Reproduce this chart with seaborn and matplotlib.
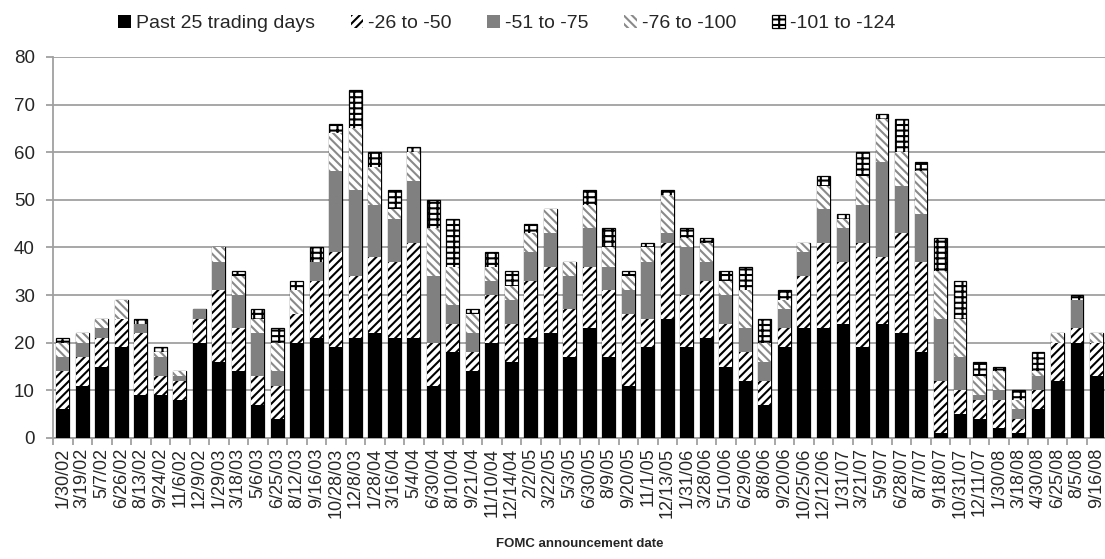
import numpy as np
import pandas as pd
import matplotlib
matplotlib.use("Agg")
import matplotlib.pyplot as plt
from matplotlib.patches import Patch
import seaborn as sns

dates = ["1/30/02", "3/19/02", "5/7/02", "6/26/02", "8/13/02", "9/24/02", "11/6/02",
         "12/9/02", "1/29/03", "3/18/03", "5/6/03", "6/25/03", "8/12/03", "9/16/03",
         "10/28/03", "12/8/03", "1/28/04", "3/16/04", "5/4/04", "6/30/04", "8/10/04",
         "9/21/04", "11/10/04", "12/14/04", "2/2/05", "3/22/05", "5/3/05", "6/30/05",
         "8/9/05", "9/20/05", "11/1/05", "12/13/05", "1/31/06", "3/28/06", "5/10/06",
         "6/29/06", "8/8/06", "9/20/06", "10/25/06", "12/12/06", "1/31/07", "3/21/07",
         "5/9/07", "6/28/07", "8/7/07", "9/18/07", "10/31/07", "12/11/07", "1/30/08",
         "3/18/08", "4/30/08", "6/25/08", "8/5/08", "9/16/08"]

past_25 = [6, 11, 15, 19, 9, 9, 8, 20, 16, 14, 7, 4, 20, 21, 19, 21, 22, 21, 21, 11,
           18, 14, 20, 16, 21, 22, 17, 23, 17, 11, 19, 25, 19, 21, 15, 12, 7, 19, 23, 23,
           24, 19, 24, 22, 18, 1, 5, 4, 2, 1, 6, 12, 20, 13]
d26_50 = [8, 6, 6, 6, 13, 4, 4, 5, 15, 9, 6, 7, 6, 12, 20, 13, 16, 16, 20, 9,
          6, 4, 10, 8, 12, 14, 10, 13, 14, 15, 6, 16, 11, 12, 9, 6, 5, 4, 11, 18,
          13, 22, 14, 21, 19, 11, 5, 4, 6, 3, 4, 8, 3, 7]
d51_75 = [3, 3, 2, 0, 2, 4, 1, 2, 6, 7, 9, 3, 0, 4, 17, 18, 11, 9, 13, 14,
          4, 4, 3, 5, 6, 7, 7, 8, 5, 5, 12, 2, 10, 4, 6, 5, 4, 4, 5, 7,
          7, 8, 20, 10, 10, 13, 7, 1, 2, 2, 3, 0, 6, 0]
d76_100 = [3, 2, 2, 4, 0, 1, 1, 0, 3, 4, 3, 6, 5, 0, 8, 13, 8, 2, 6, 10,
           8, 4, 3, 3, 4, 5, 3, 5, 4, 3, 3, 8, 2, 4, 3, 8, 4, 2, 2, 5,
           2, 6, 9, 7, 9, 10, 8, 4, 4, 2, 1, 2, 0, 2]
d101_124 = [1, 0, 0, 0, 1, 1, 0, 0, 0, 1, 2, 3, 2, 3, 2, 8, 3, 4, 1, 6,
            10, 1, 3, 3, 2, 0, 0, 3, 4, 1, 1, 1, 2, 1, 2, 5, 5, 2, 0, 2,
            1, 5, 1, 7, 2, 7, 8, 3, 1, 2, 4, 0, 1, 0]

series_names = ["Past 25 trading days", "-26 to -50", "-51 to -75", "-76 to -100", "-101 to -124"]

df = pd.DataFrame({"date": dates, series_names[0]: past_25, series_names[1]: d26_50,
                   series_names[2]: d51_75, series_names[3]: d76_100,
                   series_names[4]: d101_124})

# looks of each layer: face, hatch colour, hatch, edge width
styles = [
    dict(color="black", edgecolor="black", hatch=None, linewidth=0),
    dict(color="white", edgecolor="black", hatch="////", linewidth=0),
    dict(color="#808080", edgecolor="#808080", hatch=None, linewidth=0),
    dict(color="white", edgecolor="#8a8a8a", hatch="\\\\\\\\", linewidth=0),
    dict(color="white", edgecolor="black", hatch="---||", linewidth=0.9),
]

sns.set_style("white")
plt.rcParams["font.family"] = ["Liberation Sans", "DejaVu Sans"]
plt.rcParams["hatch.linewidth"] = 1.5

fig = plt.figure(figsize=(11.05, 5.59), dpi=100)
ax = fig.add_axes([0.048, 0.2165, 0.953, 0.6816])

cum = df[series_names].cumsum(axis=1)
# tallest stack first, each lower layer drawn over it
for i in range(len(series_names) - 1, -1, -1):
    st = styles[i]
    sns.barplot(x=df["date"], y=cum[series_names[i]], order=dates, ax=ax,
                color=st["color"], edgecolor=st["edgecolor"], hatch=st["hatch"],
                linewidth=st["linewidth"], saturation=1, width=0.65,
                errorbar=None, zorder=3)

ax.set_ylim(0, 80)
ax.set_yticks(range(0, 81, 10))
ax.set_xlim(-0.5, len(dates) - 0.5)
ax.yaxis.grid(True, color="#a0a0a0", linewidth=1.3, zorder=0)
ax.set_axisbelow(True)
for s in ["top", "right"]:
    ax.spines[s].set_visible(False)
for s in ["left", "bottom"]:
    ax.spines[s].set_color("#a0a0a0")
    ax.spines[s].set_linewidth(1.3)

ax.set_xticks(range(len(dates)))
ax.set_xticklabels(dates, rotation=90, fontsize=13)
ax.set_xticks(np.arange(-0.5, len(dates), 1), minor=True)
ax.tick_params(axis="x", which="major", length=0, pad=7)
ax.tick_params(axis="x", which="minor", length=5, color="#a0a0a0", width=1.3, bottom=True)
ax.tick_params(axis="y", length=5, color="#a0a0a0", width=1.3, left=True, labelsize=13.5, pad=8)
ax.set_ylabel("")
ax.set_xlabel("FOMC announcement date", fontsize=9.5, fontweight="bold", labelpad=14)

handles = [Patch(facecolor=st["color"], edgecolor=st["edgecolor"], hatch=st["hatch"],
                 linewidth=st["linewidth"]) for st in styles]
fig.legend(handles, series_names, loc="upper left", bbox_to_anchor=(0.091, 1.005),
           ncol=5, frameon=False, fontsize=14, handlelength=0.65, handleheight=0.65,
           handletextpad=0.25, columnspacing=1.85)

fig.savefig("out.png", dpi=100)
